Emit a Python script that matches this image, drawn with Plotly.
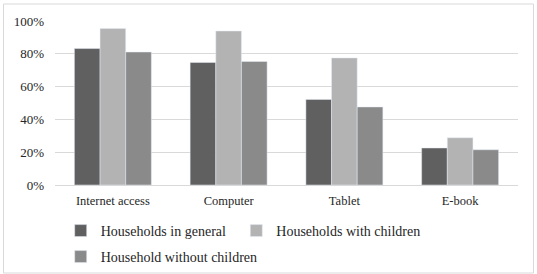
import plotly.graph_objects as go

categories = ["Internet access", "Computer", "Tablet", "E-book"]
general = [83.2, 74.7, 52.2, 22.6]
with_children = [95.4, 93.9, 77.5, 28.8]
without_children = [81.1, 75.3, 47.6, 21.5]
y_ticks = [0, 20, 40, 60, 80, 100]
y_tick_labels = ["0%", "20%", "40%", "60%", "80%", "100%"]

FONT = "Liberation Serif, DejaVu Serif, serif"
W, H = 537, 274
ML, MR, MT, MB = 55, 19, 21, 89
PW, PH = W - ML - MR, H - MT - MB

fig = go.Figure()
fig.add_bar(x=categories, y=general, name="Households in general",
            marker_color="#606060", legend="legend")
fig.add_bar(x=categories, y=with_children, name="Households with children",
            marker_color="#b3b3b3", legend="legend3")
fig.add_bar(x=categories, y=without_children, name="Household without children",
            marker_color="#8a8a8a", legend="legend2")

def px_x(p):
    return (p - ML) / PW

def px_y(p):
    return (H - MB - p) / PH

legend_common = dict(
    orientation="h", xref="paper", yref="paper", xanchor="left", yanchor="top",
    font=dict(family=FONT, size=14, color="#262626"),
    itemwidth=30, traceorder="normal", bgcolor="rgba(0,0,0,0)",
)

fig.update_layout(
    width=W, height=H,
    margin=dict(l=ML, r=MR, t=MT, b=MB, autoexpand=False),
    paper_bgcolor="white", plot_bgcolor="white",
    barmode="group", bargap=0.335, bargroupgap=0,
    font=dict(family=FONT, color="#262626"),
    showlegend=True,
    legend=dict(x=px_x(60.7), y=px_y(215), **legend_common),
    legend3=dict(x=px_x(236.3), y=px_y(215), **legend_common),
    legend2=dict(x=px_x(60.7), y=px_y(241), **legend_common),
    xaxis=dict(
        showgrid=False, showline=False, ticks="", automargin=False,
        tickfont=dict(family=FONT, size=12.5, color="#262626"),
        ticklabelstandoff=6,
    ),
    yaxis=dict(
        range=[0, 100], tickvals=y_ticks, ticktext=y_tick_labels,
        showgrid=True, gridcolor="#d9d9d9", gridwidth=1,
        zeroline=True, zerolinecolor="#d9d9d9", zerolinewidth=1,
        showline=False, ticks="", automargin=False,
        tickfont=dict(family=FONT, size=13, color="#262626"),
        ticklabelstandoff=10,
    ),
    shapes=[dict(
        type="rect", xref="paper", yref="paper",
        x0=px_x(3.5), x1=px_x(533.5), y0=px_y(273), y1=px_y(4),
        line=dict(color="#d9d9d9", width=1), fillcolor="rgba(0,0,0,0)", layer="below",
    )],
)

fig.write_html("out.html")
